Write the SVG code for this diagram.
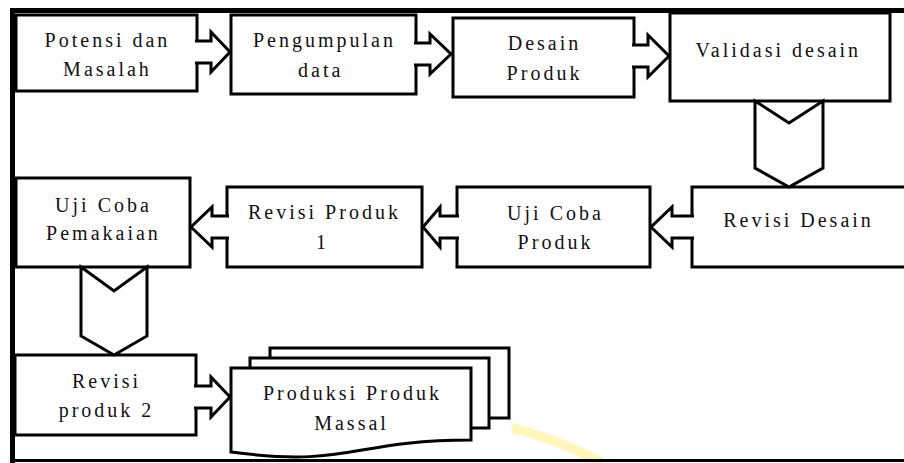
<svg xmlns="http://www.w3.org/2000/svg" width="904" height="463" viewBox="0 0 904 463">
<style>
  .box { fill: #fff; stroke: #000; stroke-width: 3; stroke-linejoin: miter; }
  .arr { fill: #fff; stroke: #000; stroke-width: 3; stroke-linejoin: miter; }
  .frame { stroke: #000; fill: none; }
</style>
<rect x="0" y="0" width="904" height="463" fill="#fff"/>
<path d="M512,428 Q560,440 602,463" fill="none" stroke="#fff4ad" stroke-width="10" opacity="0.85"/>
<g id="frame">
  <line class="frame" x1="12.5" y1="8" x2="12.5" y2="463" stroke-width="5"/>
  <line class="frame" x1="10" y1="10.5" x2="904" y2="10.5" stroke-width="5"/>
  <line class="frame" x1="10" y1="460.5" x2="904" y2="460.5" stroke-width="3"/>
</g>
<g id="n1"><rect class="box" x="16" y="15" width="181" height="76"/>
  <text x="44.6" y="47" style="font-family:'Liberation Serif','Times New Roman',serif;font-size:20px;letter-spacing:3px" fill="#111">Potensi dan</text>
  <text x="63.1" y="76" style="font-family:'Liberation Serif','Times New Roman',serif;font-size:20px;letter-spacing:3px" fill="#111">Masalah</text></g>
<g id="n2"><rect class="box" x="231" y="15" width="185" height="79"/>
  <text x="253" y="47" style="font-family:'Liberation Serif','Times New Roman',serif;font-size:20px;letter-spacing:3px" fill="#111">Pengumpulan</text>
  <text x="298" y="77" style="font-family:'Liberation Serif','Times New Roman',serif;font-size:20px;letter-spacing:3px" fill="#111">data</text></g>
<g id="n3"><rect class="box" x="453" y="18" width="181" height="79"/>
  <text x="507.7" y="50" style="font-family:'Liberation Serif','Times New Roman',serif;font-size:20px;letter-spacing:3px" fill="#111">Desain</text>
  <text x="506.6" y="80" style="font-family:'Liberation Serif','Times New Roman',serif;font-size:20px;letter-spacing:3px" fill="#111">Produk</text></g>
<g id="n4"><rect class="box" x="670" y="13" width="220" height="88"/>
  <text x="695.6" y="57" style="font-family:'Liberation Serif','Times New Roman',serif;font-size:20px;letter-spacing:3px" fill="#111">Validasi desain</text></g>
<g id="n5"><rect class="box" x="692" y="187" width="220" height="80"/>
  <text x="723.2" y="227" style="font-family:'Liberation Serif','Times New Roman',serif;font-size:20px;letter-spacing:3px" fill="#111">Revisi Desain</text></g>
<g id="n6"><rect class="box" x="457" y="187" width="193" height="80"/>
  <text x="507.1" y="220" style="font-family:'Liberation Serif','Times New Roman',serif;font-size:20px;letter-spacing:3px" fill="#111">Uji Coba</text>
  <text x="517.6" y="249" style="font-family:'Liberation Serif','Times New Roman',serif;font-size:20px;letter-spacing:3px" fill="#111">Produk</text></g>
<g id="n7"><rect class="box" x="227" y="187" width="195" height="80"/>
  <text x="248" y="219" style="font-family:'Liberation Serif','Times New Roman',serif;font-size:20px;letter-spacing:3px" fill="#111">Revisi Produk</text>
  <text x="316" y="249" style="font-family:'Liberation Serif','Times New Roman',serif;font-size:20px;letter-spacing:3px" fill="#111">1</text></g>
<g id="n8"><rect class="box" x="16" y="178" width="174" height="89"/>
  <text x="55.1" y="212" style="font-family:'Liberation Serif','Times New Roman',serif;font-size:20px;letter-spacing:3px" fill="#111">Uji Coba</text>
  <text x="46.1" y="240" style="font-family:'Liberation Serif','Times New Roman',serif;font-size:20px;letter-spacing:3px" fill="#111">Pemakaian</text></g>
<g id="n9"><rect class="box" x="15" y="355" width="181" height="80"/>
  <text x="72" y="388" style="font-family:'Liberation Serif','Times New Roman',serif;font-size:20px;letter-spacing:3px" fill="#111">Revisi</text>
  <text x="58.7" y="417" style="font-family:'Liberation Serif','Times New Roman',serif;font-size:20px;letter-spacing:3px" fill="#111">produk 2</text></g>
<g id="n10">
  <rect class="box" x="270" y="348" width="239" height="70"/>
  <rect class="box" x="250" y="358" width="239" height="70"/>
  <path class="box" d="M231,368 H471 V440 C351,440 351,468 231,452 Z"/>
  <text x="263" y="400" style="font-family:'Liberation Serif','Times New Roman',serif;font-size:20px;letter-spacing:3px" fill="#111">Produksi Produk</text>
  <text x="314.2" y="430" style="font-family:'Liberation Serif','Times New Roman',serif;font-size:20px;letter-spacing:3px" fill="#111">Massal</text></g>
<g id="connectors">
  <path class="arr" d="M195,41 H211 V32 L230,52 L211,72 V63 H195"/>
  <path class="arr" d="M414,43 H430 V34 L451,54 L430,74 V65 H414"/>
  <path class="arr" d="M632,45 H648 V35 L669,56 L648,77 V67 H632"/>
  <polygon class="arr" points="755,101 789,123 823,101 823,168 789,187 755,168"/>
  <path class="arr" d="M694,216 H672 V207 L651,227 L672,247 V238 H694"/>
  <path class="arr" d="M459,216 H440 V207 L423,227 L440,247 V238 H459"/>
  <path class="arr" d="M229,216 H212 V207 L191,227 L212,247 V238 H229"/>
  <polygon class="arr" points="81,267 114,291 147,267 147,336 114,355 81,336"/>
  <path class="arr" d="M194,386 H211 V377 L230,397 L211,417 V408 H194"/>
</g>
</svg>
